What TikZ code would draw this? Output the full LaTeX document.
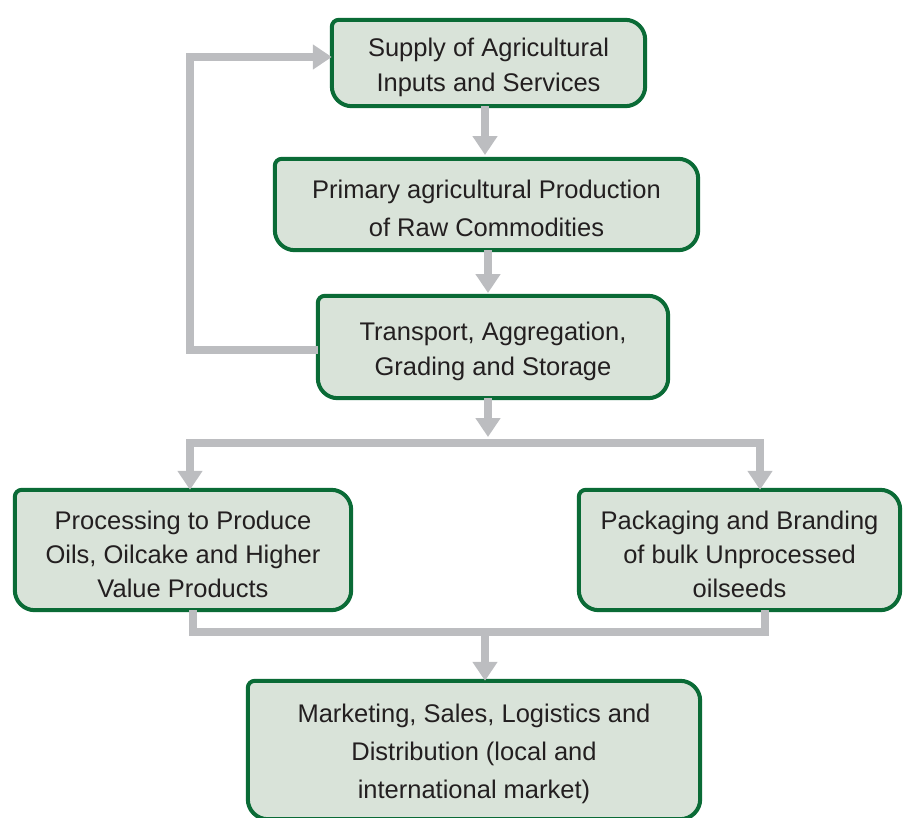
\documentclass[tikz,border=0pt]{standalone}
\usepackage{fontspec}
\setmainfont{Liberation Sans}
\usetikzlibrary{arrows.meta,backgrounds}
\definecolor{boxfill}{HTML}{D9E3D9}
\definecolor{boxline}{HTML}{0A6B36}
\definecolor{flowgray}{HTML}{BCBDC0}
\definecolor{txt}{HTML}{231F20}
\newcommand\stageoutline[1]{%
  \path[draw=boxline,line width=4pt,fill=boxfill]
    (#1.west) [rounded corners=7pt] |- (#1.north)
    [rounded corners=20pt] -| (#1.east) |- (#1.south) -| (#1.west) -- cycle;}
\newcommand\lift{\rule{0pt}{27pt}}
\tikzset{
  stage/.style 2 args={minimum width=#1, minimum height=#2, inner sep=0pt,
    align=center, text=txt, font=\fontsize{25.5}{35}\selectfont},
  flowline/.style={draw=flowgray, line width=8pt, line join=miter},
  flowarrow/.style={flowline, -{Triangle[width=24pt,length=19pt]}}
}
\begin{document}
\begin{tikzpicture}[x=1pt,y=-1pt]
\useasboundingbox (0,0) rectangle (904,817);
\node[stage={313pt}{86pt}] (b1) at (488.5,63) {\lift Supply of Agricultural\\Inputs and Services};
\node[stage={423pt}{91pt}, font=\fontsize{25.5}{38}\selectfont] (b2) at (486.5,204.5) {\lift Primary agricultural Production\\of Raw Commodities};
\node[stage={350pt}{102pt}] (b3) at (493,347) {\lift Transport, Aggregation,\\Grading and Storage};
\node[stage={336pt}{120pt}, font=\fontsize{25.5}{34}\selectfont] (b4) at (183,550) {\lift Processing to Produce\\Oils, Oilcake and Higher\\Value Products};
\node[stage={321pt}{120pt}, font=\fontsize{25.5}{34}\selectfont] (b5) at (739.5,550) {\lift Packaging and Branding\\of bulk Unprocessed\\oilseeds};
\node[stage={452pt}{138pt}, font=\fontsize{25.5}{38}\selectfont] (b6) at (474,750) {\lift Marketing, Sales, Logistics and\\Distribution (local and\\international market)};
\begin{scope}[on background layer]
  \stageoutline{b1}
  \stageoutline{b2}
  \stageoutline{b3}
  \stageoutline{b4}
  \stageoutline{b5}
  \stageoutline{b6}
\end{scope}
\coordinate (fbk) at (190,57);
\coordinate (splitL) at (190,443);
\coordinate (splitM) at (488,443);
\coordinate (splitR) at (760,443);
\coordinate (mergeL) at (193,632);
\coordinate (mergeM) at (485,632);
\coordinate (mergeR) at (765,632);
\draw[flowarrow] (b1.south -| 485,0) -- (485,155);
\draw[flowarrow] (b2.south -| 488,0) -- (488,293);
\draw[flowarrow] (b3.west |- 0,350) -| (fbk) -- (fbk -| b1.west);
\draw[flowarrow] (b3.south -| splitM) -- (488,437);
\draw[flowarrow] (splitR) -- (splitL) -- (splitL |- b4.north);
\draw[flowarrow] (splitL) -- (splitR) -- (splitR |- b5.north);
\draw[flowline] (mergeL |- b4.south) -- (mergeL) -- (mergeR) -- (mergeR |- b5.south);
\draw[flowarrow] (mergeM) -- (mergeM |- b6.north);
\end{tikzpicture}
\end{document}
